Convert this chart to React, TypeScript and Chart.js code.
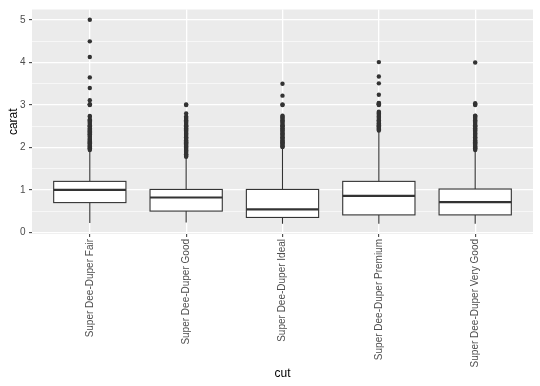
import React, { useEffect, useRef } from 'react';
import { Chart, registerables } from 'chart.js';
Chart.register(...registerables);

const categories = [
  'Super Dee-Duper Fair',
  'Super Dee-Duper Good',
  'Super Dee-Duper Ideal',
  'Super Dee-Duper Premium',
  'Super Dee-Duper Very Good',
];
const whiskerLow = [0.22, 0.23, 0.2, 0.2, 0.2];
const q1 = [0.7, 0.5, 0.35, 0.41, 0.41];
const median = [1.0, 0.82, 0.54, 0.86, 0.71];
const q3 = [1.2, 1.01, 1.01, 1.2, 1.02];
const whiskerHigh = [1.91, 1.75, 2.0, 2.38, 1.92];

const outliersFair = [
  5.01, 4.5, 4.13, 3.65, 3.4, 3.11, 3.02, 3.01, 3.0, 2.74, 2.72, 2.66, 2.64, 2.61, 2.58,
  2.55, 2.52, 2.5, 2.48, 2.45, 2.42, 2.4, 2.38, 2.36, 2.33, 2.31, 2.29, 2.27, 2.25, 2.22,
  2.2, 2.18, 2.16, 2.14, 2.12, 2.1, 2.08, 2.06, 2.04, 2.02, 2.0, 1.98, 1.96, 1.94,
];
const outliersGood = [
  3.01, 3.0, 2.8, 2.73, 2.7, 2.67, 2.64, 2.61, 2.58, 2.55, 2.52, 2.5, 2.48, 2.45, 2.42, 2.4,
  2.37, 2.34, 2.32, 2.3, 2.27, 2.24, 2.22, 2.2, 2.17, 2.14, 2.12, 2.1, 2.07, 2.04, 2.02, 2.0,
  1.97, 1.94, 1.92, 1.9, 1.87, 1.84, 1.82, 1.8, 1.78,
];
const outliersIdeal = [
  3.5, 3.22, 3.01, 3.0, 2.75, 2.72, 2.7, 2.67, 2.64, 2.61, 2.58, 2.55, 2.52, 2.5, 2.48, 2.45,
  2.42, 2.4, 2.37, 2.34, 2.32, 2.3, 2.27, 2.24, 2.22, 2.2, 2.17, 2.14, 2.12, 2.1, 2.07, 2.04,
  2.02, 2.01,
];
const outliersPremium = [
  4.01, 3.67, 3.51, 3.24, 3.05, 3.04, 3.02, 3.01, 3.0, 2.84, 2.82, 2.8, 2.77, 2.74, 2.72,
  2.7, 2.67, 2.64, 2.62, 2.6, 2.57, 2.54, 2.52, 2.5, 2.48, 2.46, 2.44, 2.42, 2.4,
];
const outliersVeryGood = [
  4.0, 3.04, 3.01, 3.0, 2.75, 2.74, 2.72, 2.7, 2.67, 2.64, 2.61, 2.58, 2.55, 2.52, 2.5, 2.48,
  2.45, 2.42, 2.4, 2.37, 2.34, 2.32, 2.3, 2.27, 2.24, 2.22, 2.2, 2.17, 2.14, 2.12, 2.1, 2.07,
  2.04, 2.02, 2.0, 1.98, 1.96, 1.94,
];
const outliers = [outliersFair, outliersGood, outliersIdeal, outliersPremium, outliersVeryGood];

const yMajorTicks = [0, 1, 2, 3, 4, 5];
const yMinorTicks = [0.5, 1.5, 2.5, 3.5, 4.5];
const yLimits = [-0.04, 5.25];

const FONT = "'Liberation Sans', Arial, sans-serif";

export default function App() {
  const ref = useRef<HTMLCanvasElement | null>(null);

  useEffect(() => {
    document.body.style.margin = '0';
    const canvas = ref.current!;
    const points: { x: number; y: number }[] = [];
    outliers.forEach((arr, i) => arr.forEach((v) => points.push({ x: i, y: v })));

    const bgPlugin = {
      id: 'panelBg',
      beforeDraw(chart: any) {
        const { ctx, chartArea } = chart;
        ctx.save();
        ctx.fillStyle = '#ffffff';
        ctx.fillRect(0, 0, chart.width, chart.height);
        ctx.fillStyle = '#EBEBEB';
        ctx.fillRect(chartArea.left, chartArea.top, chartArea.right - chartArea.left, chartArea.bottom - chartArea.top);
        ctx.restore();
      },
    };

    const boxPlugin = {
      id: 'boxes',
      beforeDatasetsDraw(chart: any) {
        const { ctx } = chart;
        const xs = chart.scales.x;
        const ys = chart.scales.y;
        ctx.save();
        categories.forEach((_, i) => {
          const cx = xs.getPixelForValue(i);
          const l = xs.getPixelForValue(i - 0.375);
          const r = xs.getPixelForValue(i + 0.375);
          const yq1 = ys.getPixelForValue(q1[i]);
          const yq3 = ys.getPixelForValue(q3[i]);
          const ymed = ys.getPixelForValue(median[i]);
          const ylo = ys.getPixelForValue(whiskerLow[i]);
          const yhi = ys.getPixelForValue(whiskerHigh[i]);
          ctx.strokeStyle = '#333333';
          ctx.lineWidth = 1.1;
          ctx.beginPath();
          ctx.moveTo(cx, yq3);
          ctx.lineTo(cx, yhi);
          ctx.moveTo(cx, yq1);
          ctx.lineTo(cx, ylo);
          ctx.stroke();
          ctx.fillStyle = '#ffffff';
          ctx.fillRect(l, yq3, r - l, yq1 - yq3);
          ctx.strokeRect(l, yq3, r - l, yq1 - yq3);
          ctx.lineWidth = 2.2;
          ctx.beginPath();
          ctx.moveTo(l, ymed);
          ctx.lineTo(r, ymed);
          ctx.stroke();
        });
        ctx.restore();
      },
    };

    const chart = new Chart(canvas, {
      type: 'scatter',
      data: {
        datasets: [
          {
            data: points,
            backgroundColor: '#333333',
            borderWidth: 0,
            pointRadius: 2.2,
            pointHoverRadius: 2.2,
          },
        ],
      },
      options: {
        animation: false,
        responsive: false,
        devicePixelRatio: 1,
        events: [],
        layout: { padding: { top: 5, right: 7, left: 0, bottom: 0 } },
        plugins: { legend: { display: false }, tooltip: { enabled: false } },
        scales: {
          x: {
            type: 'linear',
            min: -0.6,
            max: 4.6,
            afterBuildTicks: (scale: any) => {
              scale.ticks = categories.map((_, i) => ({ value: i }));
            },
            afterFit: (scale: any) => {
              scale.height = 152;
            },
            ticks: {
              autoSkip: false,
              minRotation: 90,
              maxRotation: 90,
              padding: 2,
              color: '#4D4D4D',
              font: { family: FONT, size: 10 },
              callback: (v: any) => categories[v as number] ?? '',
            },
            grid: {
              color: '#ffffff',
              lineWidth: 1.3,
              tickColor: '#333333',
              tickWidth: 1,
              tickLength: 3,
            },
            border: { display: false },
            title: {
              display: true,
              text: 'cut',
              color: '#000000',
              font: { family: FONT, size: 12 },
              padding: { top: 0, bottom: 5 },
            },
          },
          y: {
            type: 'linear',
            min: yLimits[0],
            max: yLimits[1],
            afterBuildTicks: (scale: any) => {
              scale.ticks = [...yMajorTicks, ...yMinorTicks]
                .sort((a, b) => a - b)
                .map((v) => ({ value: v }));
            },
            afterFit: (scale: any) => {
              scale.width = 32;
            },
            ticks: {
              autoSkip: false,
              padding: 3.5,
              color: '#4D4D4D',
              font: { family: FONT, size: 10 },
              callback: (v: any) => (yMajorTicks.includes(v as number) ? String(v) : ''),
            },
            grid: {
              color: '#ffffff',
              lineWidth: (ctx: any) => (ctx.tick && yMajorTicks.includes(ctx.tick.value) ? 1.3 : 0.6),
              tickColor: (ctx: any) =>
                ctx.tick && yMajorTicks.includes(ctx.tick.value) ? '#333333' : 'rgba(0,0,0,0)',
              tickWidth: 1,
              tickLength: 3,
            },
            border: { display: false },
            title: {
              display: true,
              text: 'carat',
              color: '#000000',
              font: { family: FONT, size: 12 },
              padding: { top: 6, bottom: 0 },
            },
          },
        },
      },
      plugins: [bgPlugin, boxPlugin],
    } as any);

    return () => chart.destroy();
  }, []);

  return (
    <div style={{ width: 540, height: 386 }}>
      <canvas ref={ref} width={540} height={386} style={{ display: 'block' }} />
    </div>
  );
}
